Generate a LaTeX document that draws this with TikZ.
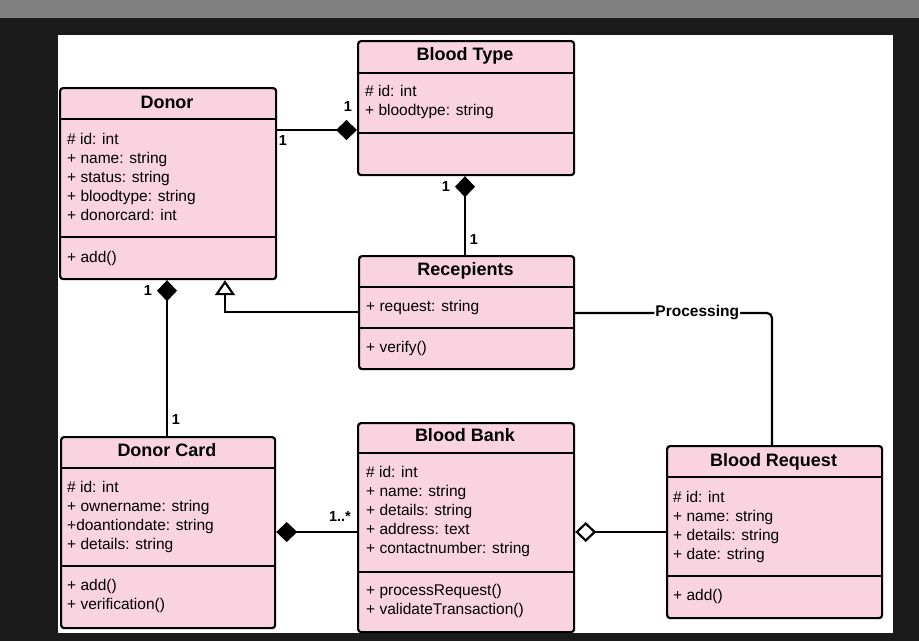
\documentclass[tikz,border=0pt]{standalone}
\usepackage{fontspec}
\setmainfont{Liberation Sans}
\usetikzlibrary{arrows.meta}
\definecolor{pinkfill}{RGB}{249,211,224}
\definecolor{darkbg}{RGB}{27,27,27}
\definecolor{topgray}{RGB}{128,128,128}
\begin{document}
\begin{tikzpicture}[x=1pt,y=-1pt,
  cls/.style={draw=black, line width=2.2pt, fill=pinkfill, rounded corners=3pt, anchor=north west, inner sep=0pt},
  sepl/.style={draw=black, line width=2.2pt},
  ttl/.style={anchor=base, inner sep=0pt, font=\fontsize{18pt}{22pt}\selectfont\bfseries},
  attr/.style={anchor=base west, inner sep=0pt, font=\fontsize{15.5pt}{19pt}\selectfont},
  mult/.style={inner sep=0pt, font=\fontsize{14.5pt}{16pt}\selectfont\bfseries},
  conn/.style={draw=black, line width=2.2pt},
  compend/.style={-{Diamond[length=21pt,width=20pt]}},
  compstart/.style={{Diamond[length=21pt,width=20pt]}-},
  aggstart/.style={{Diamond[length=21pt,width=20pt,fill=white]}-},
  genend/.style={-{Triangle[length=15pt,width=20pt,fill=white]}},
  lbl/.style={fill=white, inner sep=1pt, font=\fontsize{15.5pt}{18pt}\selectfont\bfseries}
]
\useasboundingbox (0,0) rectangle (919,641);
\fill[darkbg] (0,0) rectangle (919,641);
\fill[topgray] (0,0) rectangle (919,18);
\fill[white] (58,35) rectangle (893,633);

% ---------- Donor ----------
\node[cls, minimum width=216pt, minimum height=191pt] (donor) at (59,87) {};
\draw[sepl] (donor.west |- 0,119) -- (donor.east |- 0,119);
\draw[sepl] (donor.west |- 0,237) -- (donor.east |- 0,237);
\node[ttl] (donorT) at (167,108.4) {Donor};
\foreach \t [count=\i] in {\# id: int, + name: string, + status: string, + bloodtype: string, + donorcard: int}
  \node[attr] (donorA\i) at (67,{144.5+19*(\i-1)}) {\t};
\node[attr] (donorM1) at (67,262.5) {+ add()};

% ---------- Blood Type ----------
\node[cls, minimum width=216pt, minimum height=134pt] (bt) at (357,40) {};
\draw[sepl] (bt.west |- 0,73) -- (bt.east |- 0,73);
\draw[sepl] (bt.west |- 0,133) -- (bt.east |- 0,133);
\node[ttl] (btT) at (465,60.4) {Blood Type};
\foreach \t [count=\i] in {\# id: int, + bloodtype: string}
  \node[attr] (btA\i) at (365,{96.5+19*(\i-1)}) {\t};

% ---------- Recepients ----------
\node[cls, minimum width=215pt, minimum height=113pt] (rec) at (358,255) {};
\draw[sepl] (rec.west |- 0,287) -- (rec.east |- 0,287);
\draw[sepl] (rec.west |- 0,328) -- (rec.east |- 0,328);
\node[ttl] (recT) at (465.5,275.4) {Recepients};
\node[attr] (recA1) at (366,311.5) {+ request: string};
\node[attr] (recM1) at (366,352.5) {+ verify()};

% ---------- Donor Card ----------
\node[cls, minimum width=214pt, minimum height=191pt] (dc) at (60,436) {};
\draw[sepl] (dc.west |- 0,468) -- (dc.east |- 0,468);
\draw[sepl] (dc.west |- 0,566) -- (dc.east |- 0,566);
\node[ttl] (dcT) at (167,456.4) {Donor Card};
\foreach \t [count=\i] in {\# id: int, + ownername: string, +doantiondate: string, + details: string}
  \node[attr] (dcA\i) at (67,{492.5+19*(\i-1)}) {\t};
\foreach \t [count=\i] in {+ add(), + verification()}
  \node[attr] (dcM\i) at (67,{590.5+19*(\i-1)}) {\t};

% ---------- Blood Bank ----------
\node[cls, minimum width=216pt, minimum height=209pt] (bb) at (357,422) {};
\draw[sepl] (bb.west |- 0,453) -- (bb.east |- 0,453);
\draw[sepl] (bb.west |- 0,572) -- (bb.east |- 0,572);
\node[ttl] (bbT) at (465,441.4) {Blood Bank};
\foreach \t [count=\i] in {\# id: int, + name: string, + details: string, + address: text, + contactnumber: string}
  \node[attr] (bbA\i) at (366,{477.5+19*(\i-1)}) {\t};
\foreach \t [count=\i] in {+ processRequest(), + validateTransaction()}
  \node[attr] (bbM\i) at (366,{595.5+19*(\i-1)}) {\t};

% ---------- Blood Request ----------
\node[cls, minimum width=215pt, minimum height=172pt] (br) at (666,445) {};
\draw[sepl] (br.west |- 0,477) -- (br.east |- 0,477);
\draw[sepl] (br.west |- 0,576) -- (br.east |- 0,576);
\node[ttl] (brT) at (773.5,466.4) {Blood Request};
\foreach \t [count=\i] in {\# id: int, + name: string, + details: string, + date: string}
  \node[attr] (brA\i) at (673,{502.5+19*(\i-1)}) {\t};
\node[attr] (brM1) at (673,600.5) {+ add()};

% ---------- Connectors ----------
% Donor -- Blood Type (composition)
\draw[conn, compend] (donor.east |- 0,130) -- (bt.west |- 0,130);
\node[mult] (m1) at (283,141) {1};
\node[mult] (m2) at (348,107) {1};

% Blood Type -- Recepients (composition)
\draw[conn, compstart] (bt.south -| 465,0) -- (rec.north -| 465,0);
\node[mult] (m3) at (446,187) {1};
\node[mult] (m4) at (474,240) {1};

% Donor -- Donor Card (composition)
\draw[conn, compstart] (donor.south -| 167,0) -- (dc.north -| 167,0);
\node[mult] (m5) at (148,291) {1};
\node[mult] (m6) at (176,420) {1};

% Recepients -> Donor (generalization)
\draw[conn, genend] (rec.west |- 0,312) -| (donor.south -| 225,0);

% Recepients -- Blood Request (Processing)
\draw[conn, rounded corners=5pt] (rec.east |- 0,313) -| (br.north -| 772,0)
  node[lbl, pos=0.31] (proc) {Processing};

% Donor Card -- Blood Bank (composition)
\draw[conn, compstart] (dc.east |- 0,532) -- (bb.west |- 0,532);
\node[mult] (m7) at (340,517) {1..*};

% Blood Bank -- Blood Request (aggregation)
\draw[conn, aggstart] (bb.east |- 0,532) -- (br.west |- 0,532);
\end{tikzpicture}
\end{document}
